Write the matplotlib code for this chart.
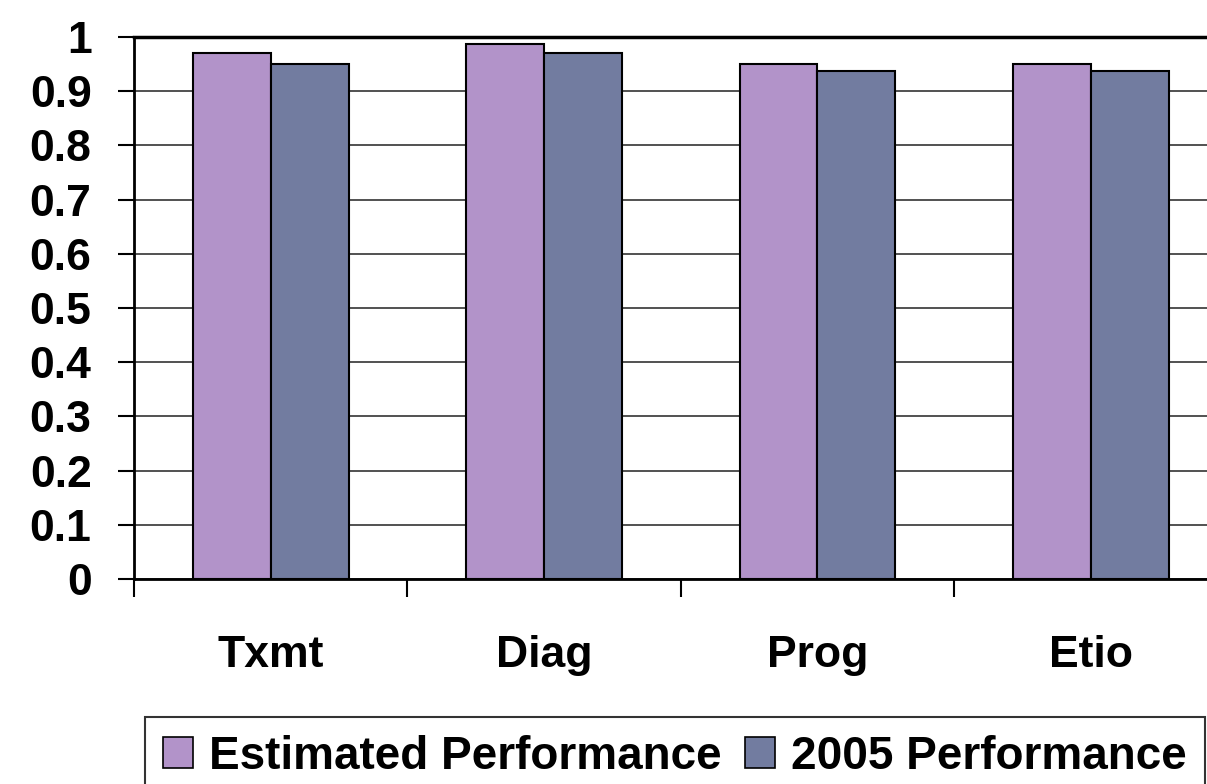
import numpy as np
import matplotlib.pyplot as plt
from matplotlib.patches import Patch

plt.rcParams['font.family'] = ['Liberation Sans', 'DejaVu Sans']
plt.rcParams['font.weight'] = 'bold'

categories = ['Txmt', 'Diag', 'Prog', 'Etio']
estimated = [0.971, 0.988, 0.950, 0.950]
perf_2005 = [0.950, 0.971, 0.938, 0.938]
series_names = ['Estimated Performance', '2005 Performance']
yticks = np.arange(0, 1.01, 0.1)
ytick_labels = ['0', '0.1', '0.2', '0.3', '0.4', '0.5', '0.6', '0.7', '0.8', '0.9', '1']

c_est = '#B293C9'
c_2005 = '#727CA0'

fig = plt.figure(figsize=(12.07, 7.84), dpi=100)
ax = fig.add_axes([0.111, 0.2615, 0.906, 0.6913])

x = np.arange(len(categories))
w = 0.285
ax.bar(x - w / 2, estimated, w, color=c_est, edgecolor='black', linewidth=1.5, zorder=3)
ax.bar(x + w / 2, perf_2005, w, color=c_2005, edgecolor='black', linewidth=1.5, zorder=3)

ax.set_xlim(-0.5, len(categories) - 0.5)
ax.set_ylim(0, 1)
ax.set_yticks(yticks)
ax.set_yticklabels(ytick_labels)
ax.yaxis.grid(True, color='#333333', linewidth=1.2, zorder=0)
ax.set_axisbelow(True)

# category labels at group centers, tick marks between groups
ax.set_xticks(x)
ax.set_xticklabels(categories)
ax.set_xticks(np.arange(-0.5, len(categories) - 0.4, 1), minor=True)
ax.tick_params(axis='x', which='major', length=0, pad=40, labelsize=32)
ax.tick_params(axis='x', which='minor', length=13, width=1.5, direction='out')
ax.tick_params(axis='y', length=11.5, width=1.5, pad=19, labelsize=32)

for s in ['left', 'bottom']:
    ax.spines[s].set_linewidth(2)
ax.spines['top'].set_linewidth(2.5)
ax.spines['right'].set_visible(False)

handles = [Patch(facecolor=c_est, edgecolor='black', linewidth=1.2),
           Patch(facecolor=c_2005, edgecolor='black', linewidth=1.2)]
leg = fig.legend(handles, series_names, loc='upper left',
                 bbox_to_anchor=(0.12, 0.086), bbox_transform=fig.transFigure,
                 ncol=2, fontsize=33, frameon=True, fancybox=False,
                 handlelength=0.66, handleheight=0.66, handletextpad=0.35,
                 columnspacing=0.5, borderpad=0.4, borderaxespad=0)
leg.get_frame().set_edgecolor('black')
leg.get_frame().set_linewidth(1.5)

fig.savefig('out.png', dpi=100)
